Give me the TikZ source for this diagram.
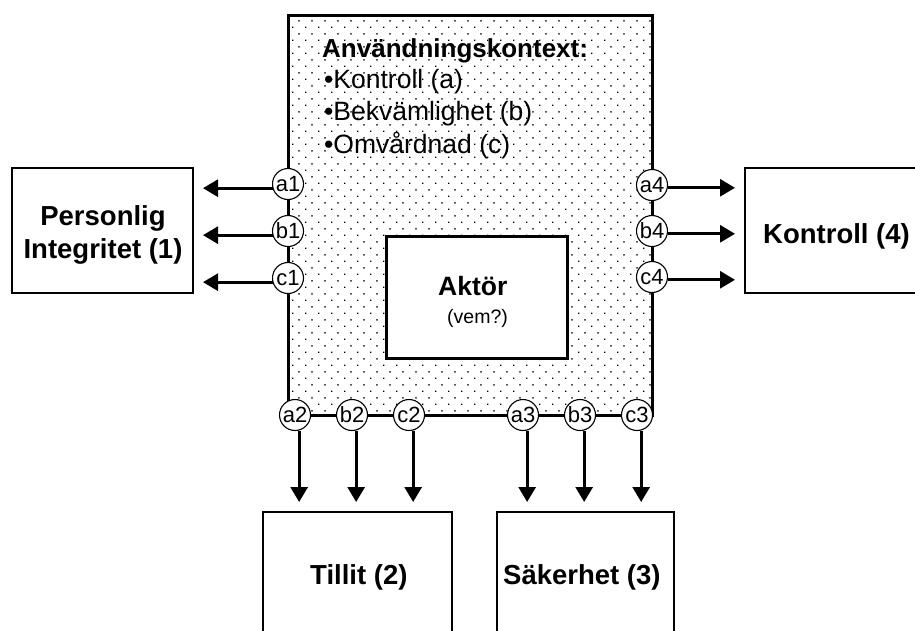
\documentclass[tikz,border=0pt]{standalone}
\usepackage{fontspec}
\setmainfont{Liberation Sans}
\usetikzlibrary{arrows.meta,patterns}
\pgfdeclarepatternformonly{sparsedots}{\pgfpointorigin}{\pgfqpoint{13.3pt}{13.3pt}}{\pgfqpoint{13.3pt}{13.3pt}}{%
  \pgfpathrectangle{\pgfqpoint{0pt}{0pt}}{\pgfqpoint{1.5pt}{1.5pt}}%
  \pgfpathrectangle{\pgfqpoint{6.65pt}{6.65pt}}{\pgfqpoint{1.5pt}{1.5pt}}%
  \pgfusepath{fill}}
\tikzset{
  port/.style={circle, draw, line width=1.1pt, fill=white, minimum size=31pt, inner sep=0pt,
    font=\fontsize{22}{24}\selectfont},
  outbox/.style={draw, line width=2.4pt, fill=white},
  lbl/.style={font=\fontsize{27.5}{30}\selectfont\bfseries, inner sep=0pt, anchor=base west},
  ctx/.style={font=\fontsize{26.5}{30}\selectfont, inner sep=0pt, anchor=base west},
  flow/.style={line width=2.8pt, -{Triangle[length=15pt,width=17pt]}},
}
\begin{document}
\begin{tikzpicture}[x=1pt,y=-1pt]
\useasboundingbox (0,0) rectangle (915,630);
\clip (0,0) rectangle (915,630);
\fill[white] (0,0) rectangle (915,630);

% context box
\draw[line width=3pt, pattern=sparsedots, pattern color=black] (288,15) rectangle (652,415);
\node[ctx, font=\fontsize{26}{28}\selectfont\bfseries] (hdr) at (322,57) {Användningskontext:};
\node[ctx] (ka) at (324,88) {•Kontroll (a)};
\node[ctx] (kb) at (324,120) {•Bekvämlighet (b)};
\node[ctx] (kc) at (324,153) {•Omvårdnad (c)};

% actor box
\draw[line width=3pt, fill=white] (386,236) rectangle (567,358);
\node[lbl, font=\fontsize{26.5}{30}\selectfont\bfseries] (akt) at (438,295) {Aktör};
\node[ctx, font=\fontsize{19.5}{22}\selectfont] (vem) at (447,323) {(vem?)};

% outer boxes
\draw[outbox] (12,168) rectangle (193,293);
\node[lbl, anchor=base] (pi1) at (103,225) {Personlig};
\node[lbl, anchor=base] (pi2) at (103,258) {Integritet (1)};
\draw[outbox] (745,168) rectangle (940,293);
\node[lbl] (ko) at (763,243) {Kontroll (4)};
\draw[outbox] (263,512) rectangle (452,660);
\node[lbl] (ti) at (310,584) {Tillit (2)};
\draw[outbox] (497,512) rectangle (674,660);
\node[lbl] (sa) at (503,584) {Säkerhet (3)};

% ports
\node[port] (a1) at (288,184) {a1};
\node[port] (b1) at (288,231) {b1};
\node[port] (c1) at (288,278) {c1};
\node[port] (a4) at (652,185) {a4};
\node[port] (b4) at (652,231) {b4};
\node[port] (c4) at (652,277) {c4};
\node[port] (a2) at (295,415) {a2};
\node[port] (b2) at (352,415) {b2};
\node[port] (c2) at (409,415) {c2};
\node[port] (a3) at (523,415) {a3};
\node[port] (b3) at (580,415) {b3};
\node[port] (c3) at (637,415) {c3};

% arrow tip lines
\coordinate (tl) at (203,0);
\coordinate (tr) at (735,0);
\coordinate (tb) at (0,502);

\draw[flow] (a1.-165) -- (a1.-165 -| tl);
\draw[flow] (b1.-165) -- (b1.-165 -| tl);
\draw[flow] (c1.-165) -- (c1.-165 -| tl);
\draw[flow] (a4.-10) -- (a4.-10 -| tr);
\draw[flow] (b4.-10) -- (b4.-10 -| tr);
\draw[flow] (c4.-10) -- (c4.-10 -| tr);
\draw[flow] (a2.-75) -- (a2.-75 |- tb);
\draw[flow] (b2.-75) -- (b2.-75 |- tb);
\draw[flow] (c2.-75) -- (c2.-75 |- tb);
\draw[flow] (a3.-75) -- (a3.-75 |- tb);
\draw[flow] (b3.-75) -- (b3.-75 |- tb);
\draw[flow] (c3.-75) -- (c3.-75 |- tb);
\end{tikzpicture}
\end{document}
